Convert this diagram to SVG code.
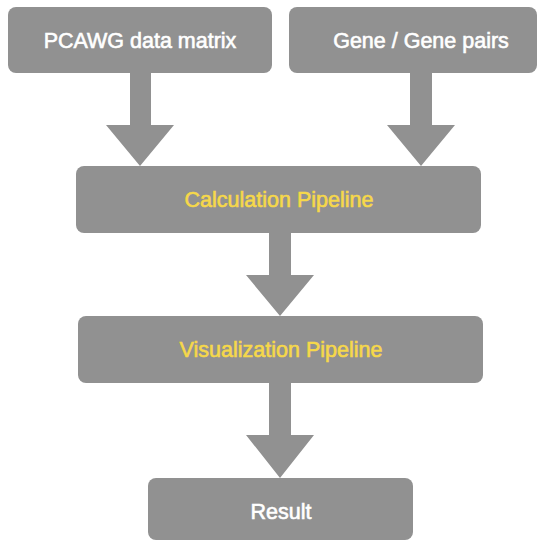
<svg xmlns="http://www.w3.org/2000/svg" width="546" height="543" viewBox="0 0 546 543">
<style>
.box{fill:#919191}
.arr{fill:#919191}
.t{font-family:"Liberation Sans",Arial,sans-serif;font-size:21.5px;text-anchor:middle;dominant-baseline:central;stroke-width:0.6px}
.w{fill:#ffffff;stroke:#ffffff}
.y{fill:#f6d84a;stroke:#f6d84a}
</style>
<rect width="546" height="543" fill="#ffffff"/>
<g id="connectors">
<polygon class="arr" points="130,73 151,73 151,125 174,125 140,166 106,125 130,125"/>
<polygon class="arr" points="410,73 432,73 432,125 455,125 421,166 387,125 410,125"/>
<polygon class="arr" points="269,233 291,233 291,275 314,275 280,316 246,275 269,275"/>
<polygon class="arr" points="269,383 291,383 291,435 314,435 280,478 246,435 269,435"/>
</g>
<g id="pcawg">
<rect class="box" x="8" y="7" width="264" height="66" rx="8"/>
<text class="t w" x="140" y="41">PCAWG data matrix</text>
</g>
<g id="gene">
<rect class="box" x="289" y="7" width="248" height="66" rx="8"/>
<text class="t w" x="421" y="41">Gene / Gene pairs</text>
</g>
<g id="calc">
<rect class="box" x="76" y="166" width="405" height="67" rx="8"/>
<text class="t y" x="279" y="200">Calculation Pipeline</text>
</g>
<g id="vis">
<rect class="box" x="78" y="316" width="405" height="67" rx="8"/>
<text class="t y" x="281" y="350">Visualization Pipeline</text>
</g>
<g id="result">
<rect class="box" x="148" y="478" width="265" height="62" rx="8"/>
<text class="t w" x="281" y="512">Result</text>
</g>
</svg>
